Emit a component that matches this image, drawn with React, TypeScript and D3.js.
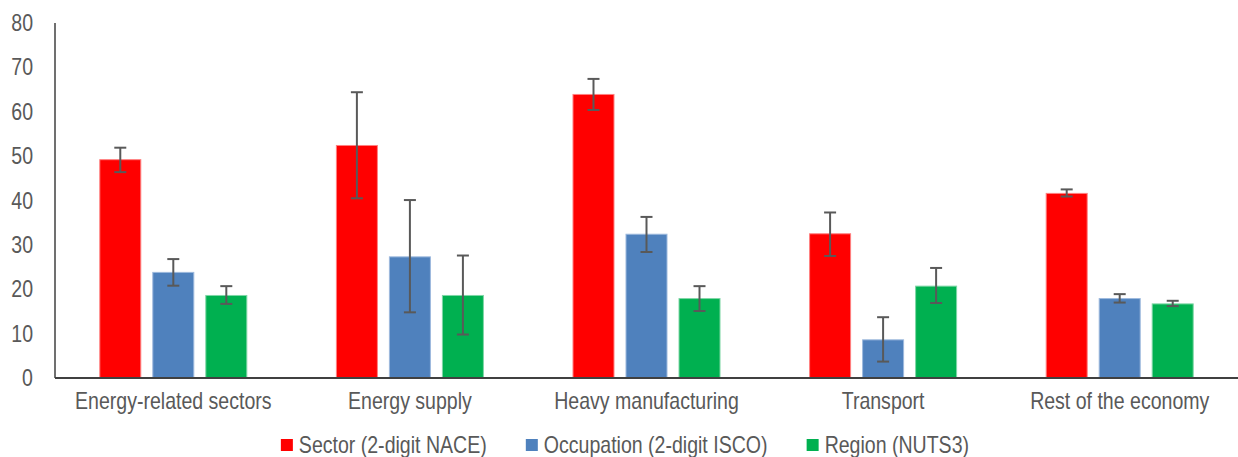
import React from "react";
import * as d3 from "d3";

const categories = ["Energy-related sectors", "Energy supply", "Heavy manufacturing", "Transport", "Rest of the economy"];
const seriesNames = ["Sector (2-digit NACE)", "Occupation (2-digit ISCO)", "Region (NUTS3)"];
const seriesColors = ["#FF0000", "#4F81BD", "#00B050"];
const seriesStrokes = ["#FF8080", "#9DB9DD", "#7FD6A6"];

const sectorValues = [49.2, 52.4, 63.9, 32.5, 41.6];
const sectorLow = [46.4, 40.5, 60.4, 27.5, 40.9];
const sectorHigh = [51.9, 64.4, 67.4, 37.3, 42.5];

const occupationValues = [23.8, 27.3, 32.4, 8.6, 17.9];
const occupationLow = [20.8, 14.8, 28.4, 3.7, 17.0];
const occupationHigh = [26.8, 40.1, 36.3, 13.7, 18.9];

const regionValues = [18.6, 18.6, 17.9, 20.7, 16.7];
const regionLow = [16.7, 9.8, 15.1, 16.9, 16.2];
const regionHigh = [20.7, 27.6, 20.7, 24.8, 17.4];

const yTicks = [0, 10, 20, 30, 40, 50, 60, 70, 80];

const W = 1238;
const H = 457;
const FONT = "'Liberation Sans', Arial, sans-serif";
const FS = 23;
const SX = 0.85;
const TEXT = "#595959";

function measure(t: string) {
  const c = document.createElement("canvas").getContext("2d")!;
  c.font = `${FS}px 'Liberation Sans', Arial, sans-serif`;
  return c.measureText(t).width * SX;
}

export default function App() {
  const x = d3.scaleBand<string>().domain(categories).range([55, W]).paddingInner(0).paddingOuter(0);
  const inner = d3.scaleBand<string>().domain(seriesNames).range([0, x.bandwidth()]).paddingInner(12 / 53).paddingOuter(0.845);
  const y = d3.scaleLinear().domain([0, 80]).range([378, 23]);

  const values = [sectorValues, occupationValues, regionValues];
  const lows = [sectorLow, occupationLow, regionLow];
  const highs = [sectorHigh, occupationHigh, regionHigh];

  const bars = categories.flatMap((cat, ci) =>
    seriesNames.map((s, si) => ({ cat, s, si, v: values[si][ci], lo: lows[si][ci], hi: highs[si][ci] }))
  );

  // legend layout
  const sq = 12;
  const gapSqText = 6;
  const gapItems = 39;
  const widths = seriesNames.map(measure);
  const itemWidths = widths.map((w) => sq + gapSqText + w);
  const total = d3.sum(itemWidths) + gapItems * (seriesNames.length - 1);
  const legendStart = 625 - total / 2;
  const legendX: number[] = [];
  let acc = legendStart;
  itemWidths.forEach((w) => {
    legendX.push(acc);
    acc += w + gapItems;
  });

  return (
    <svg width={W} height={H} style={{ position: "absolute", left: 0, top: 0, background: "#fff" }} fontFamily={FONT}>
      <rect width={W} height={H} fill="#fff" />
      {bars.map((b, i) => {
        const bx = (x(b.cat) as number) + (inner(b.s) as number);
        const bw = inner.bandwidth();
        const cx = bx + bw / 2;
        return (
          <g key={i}>
            <rect x={bx} y={y(b.v)} width={bw} height={y(0) - y(b.v)} fill={seriesColors[b.si]} stroke={seriesStrokes[b.si]} strokeWidth={1} />
          </g>
        );
      })}
      {/* axes */}
      <line x1={55} x2={55} y1={y(80)} y2={y(0)} stroke="#404040" strokeWidth={1.5} />
      <line x1={55} x2={W} y1={y(0)} y2={y(0)} stroke="#404040" strokeWidth={2} />
      {bars.map((b, i) => {
        const bx = (x(b.cat) as number) + (inner(b.s) as number);
        const cx = bx + inner.bandwidth() / 2;
        return (
          <g key={"e" + i} stroke="#595959" strokeWidth={2}>
            <line x1={cx} x2={cx} y1={y(b.hi)} y2={y(b.lo)} />
            <line x1={cx - 6} x2={cx + 6} y1={y(b.hi)} y2={y(b.hi)} />
            <line x1={cx - 6} x2={cx + 6} y1={y(b.lo)} y2={y(b.lo)} />
          </g>
        );
      })}
      {yTicks.map((t) => (
        <text key={t} transform={`translate(33,${y(t) + 8}) scale(${SX},1)`} textAnchor="end" fontSize={FS} fill={TEXT}>
          {t}
        </text>
      ))}
      {categories.map((c) => (
        <text key={c} transform={`translate(${(x(c) as number) + x.bandwidth() / 2},409) scale(${SX},1)`} textAnchor="middle" fontSize={FS} fill={TEXT}>
          {c}
        </text>
      ))}
      {seriesNames.map((s, i) => (
        <g key={s}>
          <rect x={legendX[i]} y={439} width={sq} height={sq} fill={seriesColors[i]} />
          <text transform={`translate(${legendX[i] + sq + gapSqText},453) scale(${SX},1)`} fontSize={FS} fill={TEXT}>
            {s}
          </text>
        </g>
      ))}
    </svg>
  );
}
